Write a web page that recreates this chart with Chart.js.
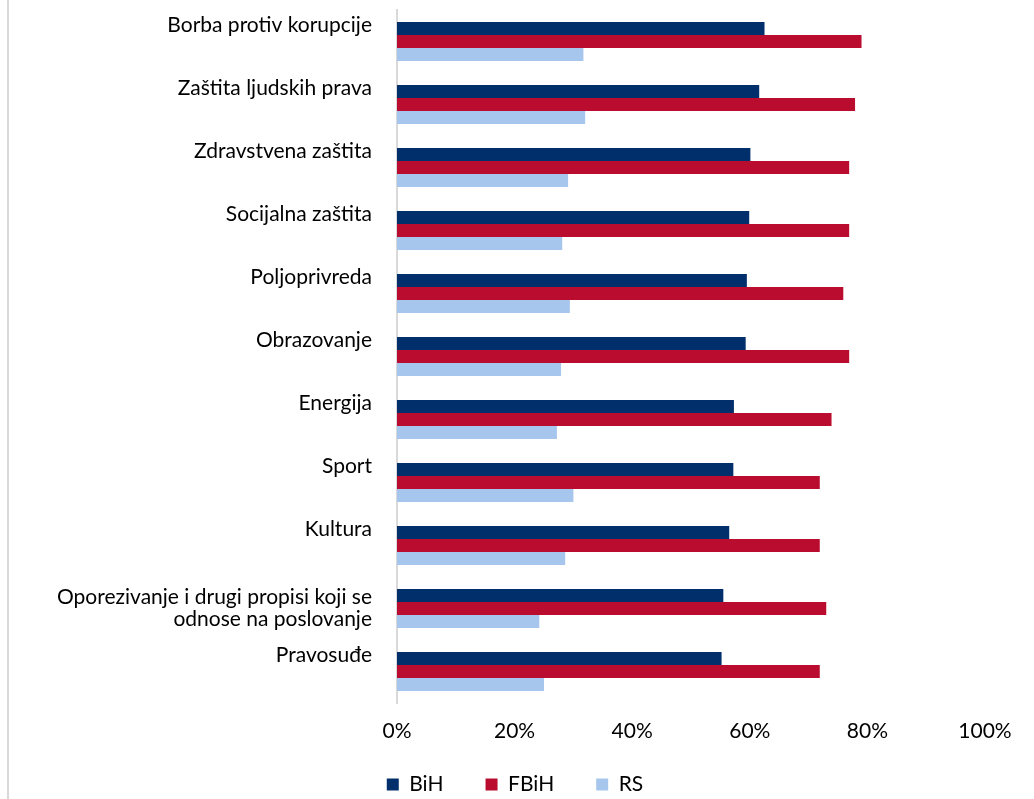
<!DOCTYPE html>
<html>
<head>
<meta charset="utf-8">
<script src="https://cdn.jsdelivr.net/npm/chart.js@4"></script>
<style>
  html, body { margin: 0; padding: 0; background: #ffffff; }
  #wrap { position: relative; width: 1034px; height: 799px; }
  #frame { position: absolute; left: 7px; top: 0; width: 2px; height: 799px; background: #d9d9d9; }
  #c { position: absolute; left: 0; top: 0; }
</style>
</head>
<body>
<div id="wrap">
  <div id="frame"></div>
  <canvas id="c" width="1034" height="799"></canvas>
</div>
<script>
const categories = [
  ['Borba protiv korupcije', ''],
  ['Zaštita ljudskih prava', ''],
  ['Zdravstvena zaštita', ''],
  ['Socijalna zaštita', ''],
  ['Poljoprivreda', ''],
  ['Obrazovanje', ''],
  ['Energija', ''],
  ['Sport', ''],
  ['Kultura', ''],
  ['Oporezivanje i drugi propisi koji se', 'odnose na poslovanje'],
  ['Pravosuđe', '']
];
const seriesNames = ['BiH', 'FBiH', 'RS'];
const bih  = [62.5, 61.6, 60.1, 59.9, 59.5, 59.3, 57.3, 57.2, 56.5, 55.5, 55.2];
const fbih = [79.0, 77.9, 76.9, 76.9, 75.9, 76.9, 73.9, 71.9, 71.9, 73.0, 71.9];
const rs   = [31.7, 32.0, 29.1, 28.1, 29.4, 27.9, 27.2, 30.0, 28.6, 24.2, 25.0];
const xTicks = [0, 20, 40, 60, 80, 100];
const colors = ['#002F6C', '#BA0C2F', '#A7C6ED'];

const FONT = 'Lato, "Open Sans", sans-serif';

function noPad(s) {
  s.paddingTop = 0; s.paddingBottom = 0; s.paddingLeft = 0; s.paddingRight = 0;
}

new Chart(document.getElementById('c'), {
  type: 'bar',
  data: {
    labels: categories,
    datasets: [bih, fbih, rs].map((d, i) => ({
      label: seriesNames[i],
      data: d,
      backgroundColor: colors[i],
      borderWidth: 0,
      categoryPercentage: 0.62,
      barPercentage: 1.0
    }))
  },
  options: {
    indexAxis: 'y',
    responsive: false,
    animation: false,
    layout: { padding: { left: 10, right: 14, top: 10, bottom: 0 } },
    scales: {
      x: {
        min: 0, max: 100,
        afterBuildTicks: (s) => { s.ticks = xTicks.map(v => ({ value: v })); },
        ticks: {
          callback: (v) => v + '%',
          color: '#000000',
          font: { family: FONT, size: 21 },
          mirror: true,
          padding: -40.5,
          maxRotation: 0
        },
        grid: { display: false, drawTicks: false, tickLength: 0 },
        border: { display: false },
        afterFit: (s) => { s.height = 29; noPad(s); }
      },
      y: {
        ticks: {
          color: '#000000',
          padding: 25,
          autoSkip: false,
          font: (ctx) => ({
            family: FONT,
            size: 21,
            lineHeight: ctx.index === 9 ? 1.05 : 1.571
          })
        },
        grid: { display: false, drawTicks: false, tickLength: 0 },
        border: { display: true, color: '#d9d9d9', width: 2 },
        afterFit: (s) => { s.width = 387; noPad(s); }
      },
      yRight: {
        type: 'category',
        position: 'right',
        display: true,
        ticks: { display: false },
        grid: { display: false, drawTicks: false },
        border: { display: false },
        afterFit: (s) => { s.width = 35; noPad(s); }
      }
    },
    plugins: {
      legend: {
        position: 'bottom',
        maxHeight: 67,
        labels: {
          boxWidth: 12,
          boxHeight: 12,
          padding: 42,
          color: '#000000',
          font: { family: FONT, size: 21 }
        }
      },
      tooltip: { enabled: false }
    }
  }
});
</script>
</body>
</html>
